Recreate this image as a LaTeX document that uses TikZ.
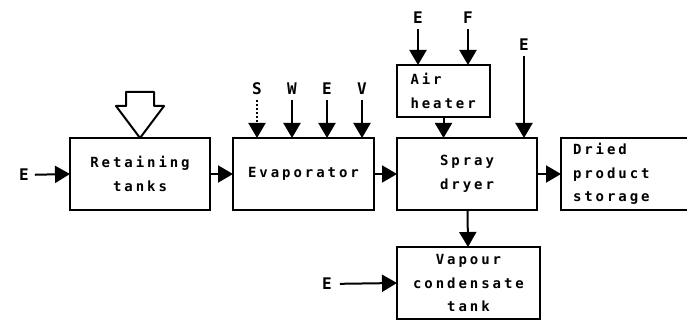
\documentclass[tikz,border=0pt]{standalone}
\usepackage{fontspec}
\usetikzlibrary{arrows.meta}
\newfontfamily\boxfont[LetterSpace=21]{DejaVu Sans Mono Bold}
\newfontfamily\lblfont{DejaVu Sans Mono Bold}

\begin{document}
\begin{tikzpicture}[x=1pt, y=-1pt, line width=2pt,
	-{Triangle[length=15pt,width=17pt]}]
	\tikzstyle{bloc}=[draw, rectangle, minimum width=140pt, minimum height=72pt, inner sep=0pt, outer sep=0pt, align=center, font=\boxfont\fontsize{14}{23.5}\selectfont]
	\tikzstyle{lbl}=[inner sep=1pt, font=\lblfont\fontsize{16}{16}\selectfont]

	\useasboundingbox (0,0) rectangle (687,320);

	% BLOCS
	\node[bloc] (ret) at (140,174) {Retaining\\tanks};
	\node[bloc, minimum width=141pt] (evap) at (303.5,174) {Evaporator};
	\node[bloc] (dryer) at (467,174) {Spray\\dryer};
	\node[bloc, minimum width=93pt, minimum height=52pt, align=left, text width=66pt] (heat) at (443.5,91) {Air\\heater};
	\node[bloc, minimum width=140pt, align=left, text width=116pt] (store) at (631,174) {Dried\\product\\storage};
	\node[bloc, minimum width=143pt] (vap) at (468.5,283) {Vapour\\condensate\\tank};

	% ENTREES
	\node[lbl] (eRet) at (24,175) {E};
	\node[lbl] (lS) at (257,89) {S};
	\node[lbl] (lW) at (292,89) {W};
	\node[lbl] (lE) at (327,89) {E};
	\node[lbl] (lV) at (362,89) {V};
	\node[lbl] (lEh) at (418,18) {E};
	\node[lbl] (lF) at (468,18) {F};
	\node[lbl] (lEd) at (524,45) {E};
	\node[lbl] (eVap) at (327,284) {E};

	% CHARGE (fleche creuse)
	\draw[-, line width=2pt, line join=round] (ret.north) -- ++(24,-32) -- ++(-10,0) -- ++(0,-14)
		-- ++(-28,0) -- ++(0,14) -- ++(-10,0) -- cycle;

	\path
		(eRet) edge[shorten <=4pt] (ret.west)
		(ret) edge (evap)
		(evap) edge (dryer)
		(dryer) edge (store)
		(lS) edge[dotted, shorten <=3pt] (lS |- evap.north)
		(lW) edge[shorten <=3pt] (lW |- evap.north)
		(lE) edge[shorten <=3pt] (lE |- evap.north)
		(lV) edge[shorten <=3pt] (lV |- evap.north)
		(lEh) edge[shorten <=3pt] (lEh |- heat.north)
		(lF) edge[shorten <=3pt] (lF |- heat.north)
		(heat) edge (heat |- dryer.north)
		(lEd) edge[shorten <=3pt] (lEd |- dryer.north)
		(dryer) edge (vap)
		(eVap) edge[shorten <=6pt] (vap.west)
	;
\end{tikzpicture}
\end{document}
